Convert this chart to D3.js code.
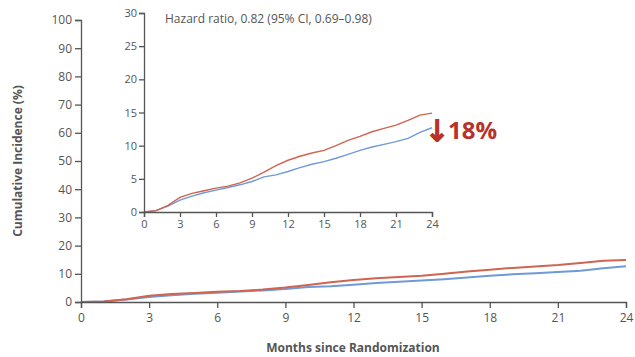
<!DOCTYPE html>
<html>
<head>
<meta charset="utf-8">
<script src="https://cdn.jsdelivr.net/npm/d3@7"></script>
<style>
  body { margin: 0; background: #fff; }
  text { font-family: "Open Sans", "Noto Sans", sans-serif; fill: #555; }
  .domain, .tick line { stroke: #555; stroke-width: 1.3; }
</style>
</head>
<body>
<div id="chart"></div>
<script>
// months since randomization
var months = [0, 1, 2, 3, 4, 5, 6, 7, 8, 9, 10, 11, 12, 13, 14, 15, 16, 17, 18, 19, 20, 21, 22, 23, 24]
// cumulative incidence (%) per group
var redSeries = [0, 0.2, 1.0, 2.2, 2.8, 3.2, 3.6, 3.9, 4.4, 5.1, 6.0, 7.0, 7.8, 8.4, 8.9, 9.3, 10.0, 10.8, 11.4, 12.1, 12.6, 13.1, 13.8, 14.6, 14.9]
var blueSeries = [0, 0.2, 0.9, 1.8, 2.4, 2.9, 3.3, 3.7, 4.1, 4.6, 5.3, 5.6, 6.1, 6.7, 7.2, 7.6, 8.1, 8.7, 9.3, 9.8, 10.2, 10.6, 11.1, 12.0, 12.7]
var xTicks = [0, 3, 6, 9, 12, 15, 18, 21, 24]
var mainYTicks = [0, 10, 20, 30, 40, 50, 60, 70, 80, 90, 100]
var insetYTicks = [0, 5, 10, 15, 20, 25, 30]

var svg = d3.select('#chart').append('svg')
  .attr('width', 635)
  .attr('height', 357)

var redColor = '#cf6450'
var blueColor = '#6f9ad8'

function drawLines (g, x, y, w) {
  var line = d3.line()
    .x(function (d, i) { return x(months[i]) })
    .y(function (d) { return y(d) })
  g.append('path').datum(blueSeries)
    .attr('fill', 'none').attr('stroke', blueColor).attr('stroke-width', w)
    .attr('d', line)
  g.append('path').datum(redSeries)
    .attr('fill', 'none').attr('stroke', redColor).attr('stroke-width', w)
    .attr('d', line)
}

// main chart
var x = d3.scaleLinear().domain([0, 24]).range([81, 626])
var y = d3.scaleLinear().domain([0, 100]).range([302, 20])

var main = svg.append('g')
drawLines(main, x, y, 2)

main.append('g')
  .attr('transform', 'translate(0,302)')
  .call(d3.axisBottom(x).tickValues(xTicks).tickSize(6).tickPadding(5))
  .selectAll('text').style('font-size', '12px')

main.append('g')
  .attr('transform', 'translate(81,0)')
  .call(d3.axisLeft(y).tickValues(mainYTicks).tickSize(6).tickPadding(3))
  .selectAll('text').style('font-size', '12px')

main.append('text')
  .attr('x', 353).attr('y', 352)
  .attr('text-anchor', 'middle')
  .style('font-size', '12px').style('font-weight', 'bold')
  .text('Months since Randomization')

main.append('text')
  .attr('transform', 'translate(22,161) rotate(-90)')
  .attr('text-anchor', 'middle')
  .style('font-size', '12px').style('font-weight', 'bold')
  .text('Cumulative Incidence (%)')

// inset chart
var xi = d3.scaleLinear().domain([0, 24]).range([144, 432])
var yi = d3.scaleLinear().domain([0, 30]).range([212, 13])

var inset = svg.append('g')
drawLines(inset, xi, yi, 1.4)

inset.append('g')
  .attr('transform', 'translate(0,212)')
  .call(d3.axisBottom(xi).tickValues(xTicks).tickSize(5).tickPadding(3))
  .selectAll('text').style('font-size', '11px')

inset.append('g')
  .attr('transform', 'translate(144,0)')
  .call(d3.axisLeft(yi).tickValues(insetYTicks).tickSize(5).tickPadding(2))
  .selectAll('text').style('font-size', '11px')

inset.append('text')
  .attr('x', 165).attr('y', 23)
  .style('font-size', '12px')
  .text('Hazard ratio, 0.82 (95% CI, 0.69\u20130.98)')

// reduction callout
inset.append('text')
  .attr('x', 425).attr('y', 141)
  .style('font-family', '"DejaVu Sans", sans-serif')
  .style('font-size', '29px')
  .style('fill', '#b8312a')
  .style('stroke', '#b8312a')
  .style('stroke-width', 1.6)
  .text('\u2193')

inset.append('text')
  .attr('x', 448).attr('y', 139)
  .style('font-size', '24px').style('font-weight', 'bold')
  .style('fill', '#b8312a')
  .text('18%')
</script>
</body>
</html>
